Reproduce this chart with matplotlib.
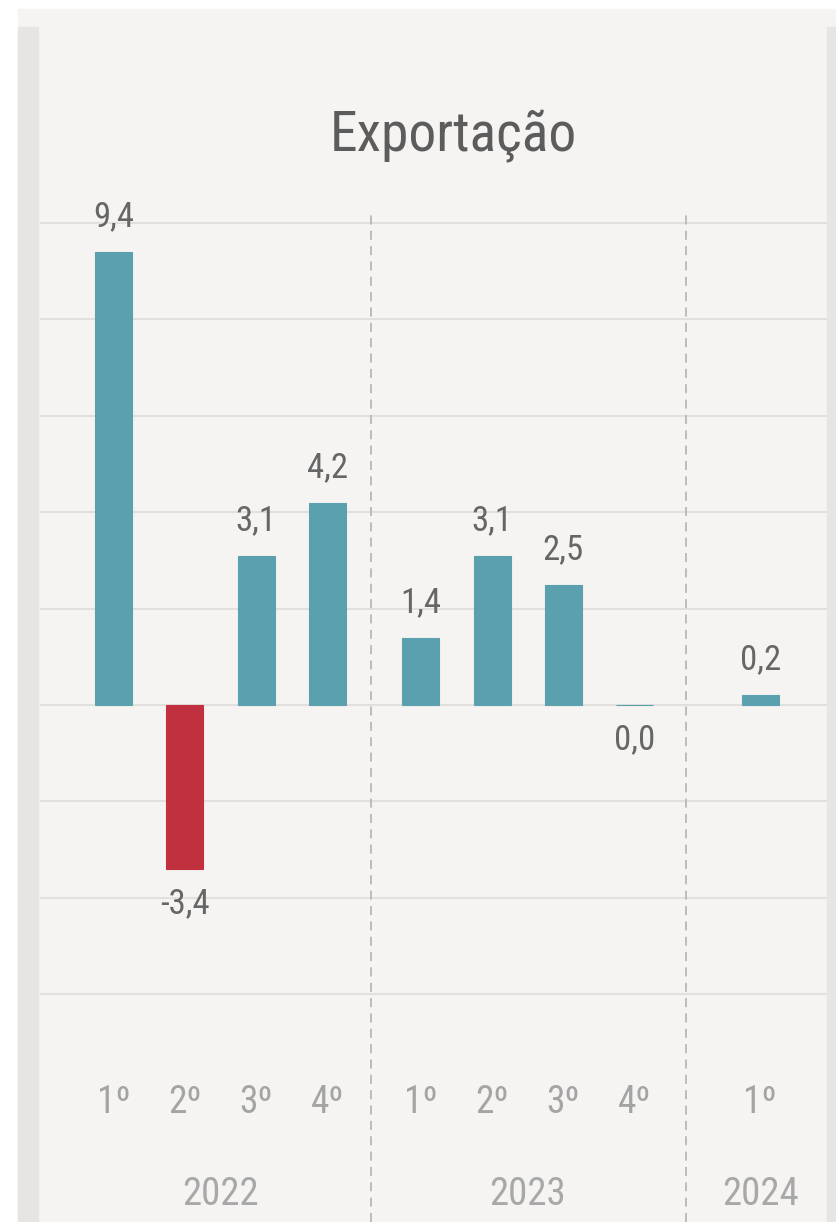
import matplotlib
matplotlib.use("Agg")
import matplotlib.pyplot as plt
from matplotlib.patches import Rectangle
from matplotlib import font_manager as fm

# ---- data ----
title = "Exportação"
years = ["2022", "2023", "2024"]
quarters = [["1º", "2º", "3º", "4º"], ["1º", "2º", "3º", "4º"], ["1º"]]
values = [9.4, -3.4, 3.1, 4.2, 1.4, 3.1, 2.5, 0.0, 0.2]
value_labels = ["9,4", "-3,4", "3,1", "4,2", "1,4", "3,1", "2,5", "0,0", "0,2"]

# ---- font: prefer a condensed sans ----
def pick_font():
    ttf = fm.fontManager.ttflist
    names = {f.name for f in ttf}
    for n in ["Liberation Sans Narrow", "Roboto Condensed", "Noto Sans Condensed",
              "Open Sans Condensed", "DejaVu Sans Condensed"]:
        if n in names:
            return fm.FontProperties(family=n), True
    def is_cond(f):
        st = f.stretch
        if isinstance(st, str):
            c = "condensed" in st or "narrow" in st
        else:
            c = st < 500
        return c or "Narrow" in f.name or "Condensed" in f.name
    def is_regular(f):
        w = f.weight
        w = {"normal": 400, "regular": 400, "book": 400}.get(w, w) if isinstance(w, str) else w
        return f.style == "normal" and (w == 400)
    cands = [f for f in ttf if is_cond(f) and is_regular(f)]
    cands.sort(key=lambda f: (0 if "Sans" in f.name else 1, f.name))
    if cands:
        return fm.FontProperties(fname=cands[0].fname), True
    return fm.FontProperties(family="Roboto"), False

FP, CONDENSED = pick_font()

def fp(size):
    p = FP.copy()
    p.set_size(size)
    return p

W, H = 837, 1222
BG = "#f5f4f2"
STRIP = "#e6e5e3"
TEAL = "#5ba0ae"
RED = "#c1303e"
GRID = "#e1e0de"

fig = plt.figure(figsize=(W / 100, H / 100), dpi=100, facecolor="white")

def px(x0, y0, w, h):
    return [x0 / W, 1 - (y0 + h) / H, w / W, h / H]

fig.patches.append(Rectangle((18 / W, 0), (W - 18) / W, (H - 9) / H,
                             transform=fig.transFigure, color=BG, zorder=-10))
fig.patches.append(Rectangle((18 / W, 0), 20 / W, (H - 27) / H,
                             transform=fig.transFigure, color=STRIP, zorder=-9))
fig.patches.append(Rectangle((827 / W, 0), 10 / W, (H - 27) / H,
                             transform=fig.transFigure, color=STRIP, zorder=-9))

ax = fig.add_axes(px(40, 28, 787, H - 28))
ax.set_facecolor("none")

group_starts = [0.0, 4.31, 9.07]
xs = []
group_centers = []
for gs, qs in zip(group_starts, quarters):
    pos = [gs + i for i in range(len(qs))]
    xs.extend(pos)
    group_centers.append((pos[0] + pos[-1]) / 2)
separators = [3.61, 8.03]

ppu = 48.2
ax.set_ylim(-(H - 705) / ppu, (705 - 28) / ppu)
ax.set_xlim(-(113.5 - 40) / 71.3, (827 - 113.5) / 71.3)

ax.set_yticks(range(-6, 11, 2))
ax.yaxis.grid(True, color=GRID, linewidth=1.5)
ax.set_axisbelow(True)
ax.tick_params(left=False, bottom=False, labelleft=False, labelbottom=False)
for s in ax.spines.values():
    s.set_visible(False)

ax.vlines(separators, ax.get_ylim()[0], (705 - 210) / ppu, colors="#b8b8b8",
          linestyles=(0, (5, 3.5)), linewidth=1.3, zorder=1)

colors = [TEAL if v >= 0 else RED for v in values]
ax.bar(xs, values, width=0.52, color=colors, edgecolor=colors, linewidth=0.8, zorder=2)

k = 1.0 if CONDENSED else 0.85
for x, v, lab in zip(xs, values, value_labels):
    if v > 0:
        ax.annotate(lab, (x, v), xytext=(0, 18.5), textcoords="offset points",
                    ha="center", va="baseline", fontproperties=fp(25 * k), color="#666666")
    else:
        ax.annotate(lab, (x, v), xytext=(0, -13), textcoords="offset points",
                    ha="center", va="top", fontproperties=fp(25 * k), color="#666666")

y_q = -(1113 - 705) / ppu
y_y = -(1205 - 705) / ppu
for x, q in zip(xs, [q for g in quarters for q in g]):
    ax.text(x, y_q, q, ha="center", va="baseline", fontproperties=fp(27 * k), color="#a4a4a4")
for gc, yr in zip(group_centers, years):
    ax.text(gc, y_y, yr, ha="center", va="baseline", fontproperties=fp(28 * k), color="#a8a8a8")

fig.text(453 / W, 1 - 150 / H, title, ha="center", va="baseline",
         fontproperties=fp(40 * k), color="#5c5c5c")

fig.savefig("out.png", dpi=100, facecolor="white")
